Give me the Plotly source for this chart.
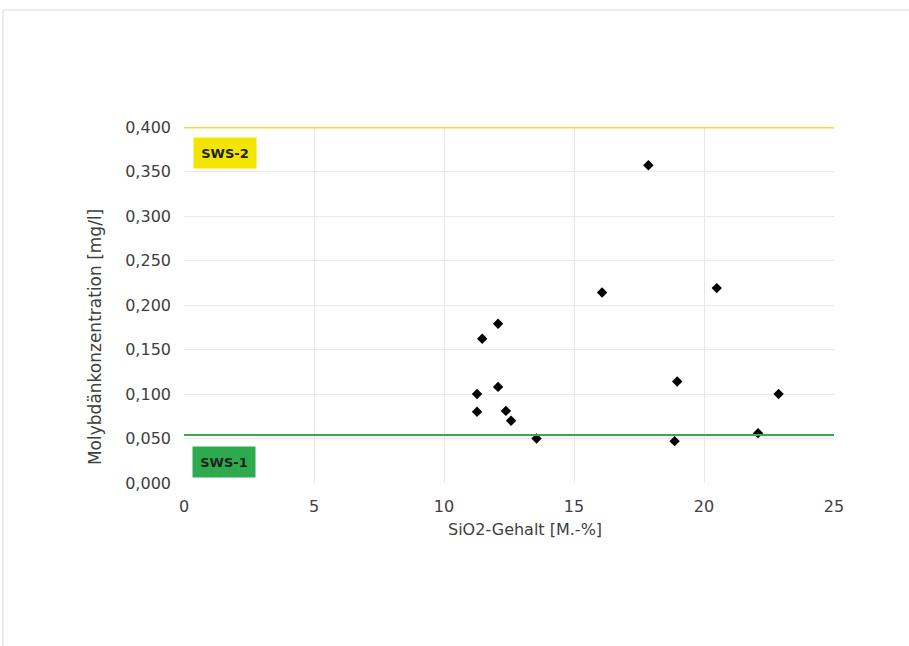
import plotly.graph_objects as go

# Data
sio2 = [11.27, 11.27, 11.47, 12.08, 12.08, 12.38, 12.58, 13.56, 16.08, 17.86, 18.97, 18.87, 20.49, 22.08, 22.87]
mo = [0.100, 0.080, 0.162, 0.179, 0.108, 0.081, 0.070, 0.050, 0.214, 0.357, 0.114, 0.047, 0.219, 0.056, 0.100]
sws1 = 0.054
sws2 = 0.400
x_ticks = [0, 5, 10, 15, 20, 25]
y_ticks = [0.0, 0.05, 0.1, 0.15, 0.2, 0.25, 0.3, 0.35, 0.4]
y_ticktext = ["0,000", "0,050", "0,100", "0,150", "0,200", "0,250", "0,300", "0,350", "0,400"]

FONT = "DejaVu Sans"
TXT = "#404040"

fig = go.Figure()
fig.add_trace(go.Scatter(
    x=sio2, y=mo, mode="markers",
    marker=dict(symbol="diamond", size=8, color="#000000"),
    showlegend=False, hoverinfo="x+y"))

# limit lines
fig.add_hline(y=sws1, line=dict(color="#3BAA4A", width=2), layer="above")
fig.add_hline(y=sws2, line=dict(color="#EDE03A", width=3), layer="above")

# outer frame
fig.add_shape(type="rect", xref="paper", yref="paper",
              x0=-0.2785, x1=1.2, y0=-0.5, y1=1.3287,
              line=dict(color="#E6E6E6", width=1.5), layer="below")

fig.add_annotation(x=0.0631, y=0.927, xref="x domain", yref="y domain",
                   xanchor="center", yanchor="middle",
                   text="<b>SWS-2</b>", showarrow=False,
                   bgcolor="#F2E600", width=56, height=24, borderpad=3,
                   font=dict(family=FONT, size=13, color="#202020"))
fig.add_annotation(x=0.0615, y=0.059, xref="x domain", yref="y domain",
                   xanchor="center", yanchor="middle",
                   text="<b>SWS-1</b>", showarrow=False,
                   bgcolor="#2EAA4E", width=56, height=24, borderpad=3,
                   font=dict(family=FONT, size=13, color="#202020"))

# axis titles (placed as in the reference)
fig.add_annotation(x=0.5246, y=-0.132, xref="paper", yref="paper",
                   xanchor="center", yanchor="middle", showarrow=False,
                   text="SiO2-Gehalt [M.-%]", font=dict(family=FONT, size=16, color=TXT))
fig.add_annotation(x=-0.1369, y=0.41, xref="paper", yref="paper",
                   xanchor="center", yanchor="middle", showarrow=False, textangle=-90,
                   text="Molybdänkonzentration [mg/l]", font=dict(family=FONT, size=17, color=TXT))

fig.update_layout(
    width=909, height=646,
    margin=dict(l=184, r=75, t=127, b=163),
    paper_bgcolor="white", plot_bgcolor="white",
    font=dict(family=FONT, size=16, color=TXT),
    xaxis=dict(range=[0, 25], tickvals=x_ticks, showgrid=True, gridcolor="#E8E8E8",
               gridwidth=1, zeroline=False, showline=False, ticks="",
               ticklabelstandoff=12,
               tickfont=dict(size=16, color=TXT)),
    yaxis=dict(range=[0, 0.4], tickvals=y_ticks, ticktext=y_ticktext, showgrid=True,
               gridcolor="#E8E8E8", gridwidth=1, zeroline=False, showline=False,
               ticks="", ticklabelstandoff=12, tickfont=dict(size=16, color=TXT)),
)

fig.write_html("out.html", config={"displayModeBar": False},
               post_script="document.body.style.margin='0';")
